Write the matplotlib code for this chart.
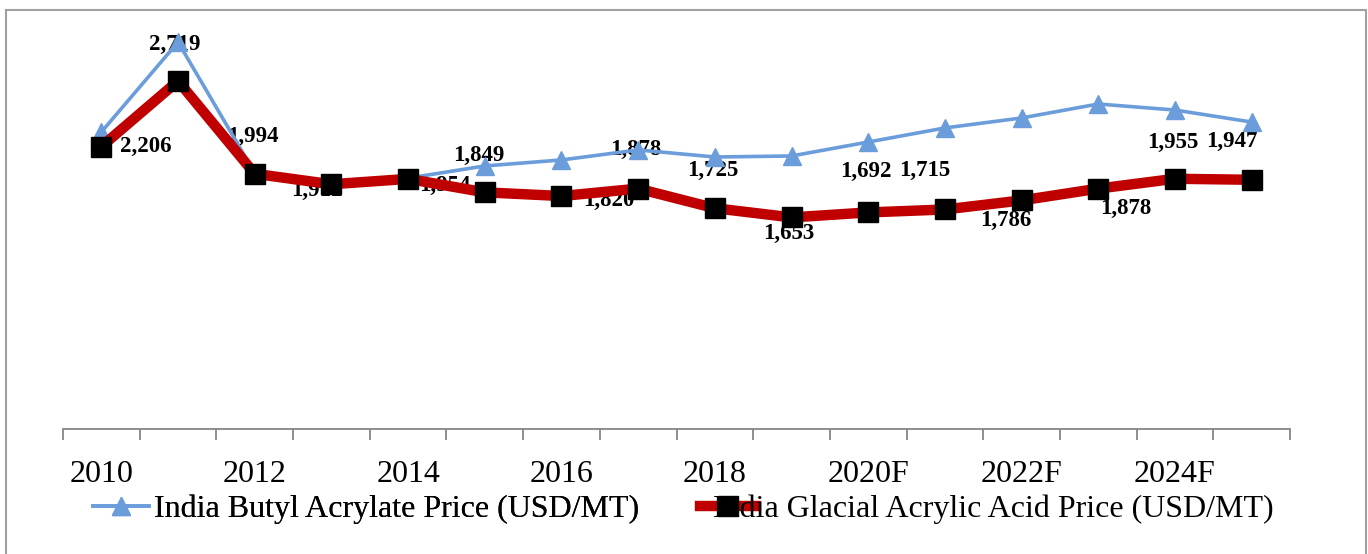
import numpy as np
import matplotlib
matplotlib.use('Agg')
import matplotlib.pyplot as plt
from matplotlib.patches import Rectangle

plt.rcParams['font.family'] = ['Liberation Serif', 'DejaVu Serif']

years = ['2010', '2011', '2012', '2013', '2014', '2015', '2016', '2017',
         '2018', '2019', '2020F', '2021F', '2022F', '2023F', '2024F', '2025F']
butyl_acrylate = [2320, 3023, 2000, 1915, 1960, 2055, 2102, 2180,
                  2125, 2133, 2242, 2352, 2430, 2539, 2492, 2398]
glacial_acrylic = [2206, 2719, 1994, 1912, 1954, 1849, 1820, 1878,
                   1725, 1653, 1692, 1715, 1786, 1878, 1955, 1947]

# where excel put each data label, in pixels from its point (x right, y down)
label_offsets = [(44, 0), (-3, -36), (-2, -37), (-15, 6), (37, 7), (-6, -37),
                 (47, 4), (-2, -39), (-2, -38), (-3, 16), (-2, -41), (-20, -39),
                 (-16, 20), (27, 20), (-2, -36), (-20, -38)]

blue = '#6B9DDB'
red = '#C00000'

fig = plt.figure(figsize=(13.68, 5.54), dpi=100)
ax = fig.add_axes([63 / 1368, 125 / 554, 1227 / 1368, 409.6 / 554])

x = np.arange(len(years))
ax.plot(x, butyl_acrylate, color=blue, lw=2.6, marker='^', markersize=13,
        markerfacecolor=blue, markeredgecolor=blue, zorder=3, clip_on=False,
        label='India Butyl Acrylate Price (USD/MT)')
ax.plot(x, glacial_acrylic, color=red, lw=7.5, marker='s', markersize=14,
        markerfacecolor='black', markeredgecolor='black', zorder=4, clip_on=False,
        label='India Glacial Acrylic Acid Price (USD/MT)')

for xi, v, (dx, dy) in zip(x, glacial_acrylic, label_offsets):
    ax.annotate(f'{v:,}', (xi, v), xytext=(dx * 0.72, -dy * 0.72),
                textcoords='offset points', ha='center', va='center',
                fontsize=16.5, fontweight='bold', zorder=1, annotation_clip=False)

ax.set_xlim(-0.5, len(years) - 0.5)
ax.set_ylim(0, 3200)

for s in ['top', 'right', 'left']:
    ax.spines[s].set_visible(False)
ax.spines['bottom'].set_color('#868686')
ax.spines['bottom'].set_linewidth(1.3)
ax.set_yticks([])

ax.set_xticks(np.arange(-0.5, len(years)))
ax.set_xticklabels([])
ax.tick_params(axis='x', which='major', length=8, width=1.3, color='#868686')
ax.set_xticks(x[::2], minor=True)
ax.set_xticklabels(years[::2], minor=True, fontsize=23)
ax.tick_params(axis='x', which='minor', length=0, pad=22)

h, l = ax.get_legend_handles_labels()
leg1 = fig.legend([h[0]], [l[0]], loc='center left', bbox_to_anchor=(93 / 1368, 1 - 509 / 554),
                  frameon=False, fontsize=23, handlelength=1.75, handletextpad=0.15,
                  borderaxespad=0, borderpad=0)
fig.add_artist(leg1)
leg2 = fig.legend([h[1]], [l[1]], loc='center left', bbox_to_anchor=(700 / 1368, 1 - 509 / 554),
                  frameon=False, fontsize=23, handlelength=1.75, handletextpad=-1.35,
                  borderaxespad=0, borderpad=0)

# outer chart border
fig.add_artist(Rectangle((6 / 1368, -0.05), 1361 / 1368 - 0.001, 1.05 - 10 / 554,
                         transform=fig.transFigure, fill=False,
                         edgecolor='#A0A0A0', lw=1.5))

fig.savefig('out.png', dpi=100)
